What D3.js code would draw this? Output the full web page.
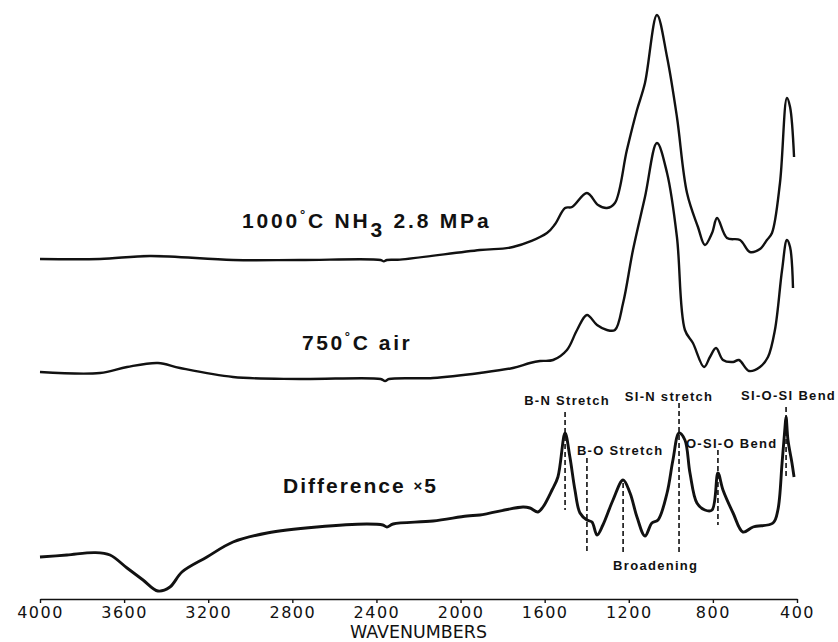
<!DOCTYPE html>
<html>
<head>
<meta charset="utf-8">
<script src="https://cdn.jsdelivr.net/npm/d3@7"></script>
<style>
  body { margin: 0; background: #fff; }
  .lbl { font-family: "Liberation Sans", Arial, sans-serif; font-weight: bold; fill: #111; }
  .tick text { font-family: "DejaVu Sans", sans-serif; }
</style>
</head>
<body>
<div id="plot"></div>
<script>
// wavenumber (cm-1) and absorbance above each trace's own start level
const nh3Wn  = [4000, 3715, 3477, 3082, 2764, 2380, 2365, 2350, 2288, 1908, 1751, 1589, 1550, 1503, 1470, 1399, 1346, 1304, 1266, 1209, 1161, 1123, 1066, 1018, 971, 923, 871, 838, 804, 780, 733, 671, 624, 576, 543, 519, 481, 448, 433, 414];
const nh3Abs = [0, 0, 0.015, -0.005, -0.005, -0.005, -0.012, -0.005, -0.003, 0.045, 0.06, 0.13, 0.175, 0.255, 0.26, 0.33, 0.27, 0.255, 0.28, 0.545, 0.745, 0.88, 1.22, 1.01, 0.71, 0.33, 0.16, 0.07, 0.13, 0.205, 0.105, 0.095, 0.035, 0.05, 0.095, 0.13, 0.38, 0.805, 0.76, 0.51];

const airWn  = [4000, 3715, 3586, 3439, 3334, 3082, 2764, 2380, 2359, 2340, 2131, 1908, 1751, 1670, 1622, 1560, 1494, 1446, 1399, 1351, 1304, 1266, 1227, 1180, 1123, 1066, 1018, 971, 933, 895, 842, 814, 785, 752, 704, 676, 628, 576, 538, 505, 471, 448, 433, 419];
const airAbs = [0, -0.005, 0.025, 0.045, 0.02, -0.025, -0.035, -0.035, -0.045, -0.035, -0.03, -0.005, 0.02, 0.045, 0.055, 0.06, 0.11, 0.21, 0.285, 0.235, 0.21, 0.21, 0.345, 0.61, 0.875, 1.145, 0.995, 0.675, 0.21, 0.145, 0.025, 0.075, 0.12, 0.06, 0.05, 0.06, 0.005, 0.025, 0.075, 0.21, 0.51, 0.66, 0.625, 0.42];

const diffWn  = [4000, 3872, 3738, 3667, 3586, 3510, 3439, 3382, 3325, 3206, 3082, 2920, 2683, 2445, 2370, 2350, 2321, 2131, 1969, 1908, 1703, 1670, 1632, 1608, 1565, 1537, 1503, 1480, 1456, 1432, 1399, 1375, 1351, 1323, 1275, 1227, 1194, 1161, 1123, 1090, 1061, 1018, 990, 961, 933, 909, 876, 838, 804, 776, 752, 704, 657, 609, 514, 491, 471, 457, 452, 443, 424, 414];
const diffAbs = [0, 0.01, 0.022, 0.01, -0.055, -0.115, -0.17, -0.15, -0.075, 0, 0.075, 0.12, 0.15, 0.165, 0.16, 0.15, 0.165, 0.18, 0.205, 0.21, 0.25, 0.245, 0.225, 0.25, 0.335, 0.4, 0.62, 0.5, 0.335, 0.22, 0.185, 0.175, 0.11, 0.16, 0.285, 0.385, 0.32, 0.2, 0.105, 0.17, 0.185, 0.32, 0.485, 0.62, 0.585, 0.42, 0.27, 0.235, 0.235, 0.42, 0.335, 0.22, 0.125, 0.15, 0.17, 0.235, 0.47, 0.65, 0.7, 0.585, 0.47, 0.4];

const traceOffsets = [1.705, 1.14, 0.215];   // vertical stacking of the three traces
const xTicks = [4000, 3600, 3200, 2800, 2400, 2000, 1600, 1200, 800, 400];

// band assignments on the difference spectrum
const bandNames = ["B-N Stretch", "B-O Stretch", "Broadening", "SI-N stretch", "O-SI-O Bend", "SI-O-SI Bend"];
const bandWn    = [1503, 1399, 1227, 961, 776, 452];
const bandTop   = [0.94, 0.71, 0.585, 0.985, 0.75, 0.965];
const bandBot   = [0.45, 0.235, 0.235, 0.235, 0.375, 0.61];

const width = 838, height = 642;

const svg = d3.select("#plot")
    .append("svg")
    .attr("width", width)
    .attr("height", height);

const x = d3.scaleLinear().domain([4000, 400]).range([40, 797]);
const y = d3.scaleLinear().domain([0, 3]).range([600, 0]);

const line = d3.line()
    .x(d => x(d[0]))
    .y(d => y(d[1]))
    .curve(d3.curveCatmullRom.alpha(0.5));

const traces = [
    {wn: nh3Wn, abs: nh3Abs, w: 2.4},
    {wn: airWn, abs: airAbs, w: 2.4},
    {wn: diffWn, abs: diffAbs, w: 2.9}
];

traces.forEach((t, i) => {
    const pts = t.wn.map((w, j) => [w, t.abs[j] + traceOffsets[i]]);
    svg.append("path")
        .datum(pts)
        .attr("fill", "none")
        .attr("stroke", "#111")
        .attr("stroke-width", t.w)
        .attr("stroke-linejoin", "round")
        .attr("d", line);
});

// x axis
const axis = svg.append("g")
    .attr("transform", "translate(0,599)")
    .call(d3.axisBottom(x).tickValues(xTicks).tickSize(4).tickSizeOuter(0).tickPadding(4).tickFormat(d3.format("d")));
axis.select(".domain").attr("stroke", "#111").attr("stroke-width", 1.6);
axis.selectAll(".tick line").attr("stroke", "#111").attr("stroke-width", 1.4);
axis.selectAll(".tick text")
    .attr("font-size", 16)
    .attr("letter-spacing", 1.5)
    .attr("fill", "#111");

svg.append("text")
    .attr("x", x(2200)).attr("y", 638)
    .attr("text-anchor", "middle")
    .attr("font-family", "DejaVu Sans, sans-serif")
    .attr("font-size", 18)
    .attr("textLength", 137)
    .attr("lengthAdjust", "spacingAndGlyphs")
    .attr("fill", "#111")
    .text("WAVENUMBERS");

// trace labels
const t1 = svg.append("text").attr("class", "lbl")
    .attr("x", 242).attr("y", 228)
    .attr("font-size", 21).attr("letter-spacing", 2.8);
t1.append("tspan").text("1000");
t1.append("tspan").attr("dy", -9).attr("font-size", 13).text("°");
t1.append("tspan").attr("dy", 9).text("C NH");
t1.append("tspan").attr("dy", 9).text("3");
t1.append("tspan").attr("dy", -9).text(" 2.8 MPa");

const t2 = svg.append("text").attr("class", "lbl")
    .attr("x", 302).attr("y", 350)
    .attr("font-size", 21).attr("letter-spacing", 2.6);
t2.append("tspan").text("750");
t2.append("tspan").attr("dy", -9).attr("font-size", 13).text("°");
t2.append("tspan").attr("dy", 9).text("C air");

const t3 = svg.append("text").attr("class", "lbl")
    .attr("x", 283).attr("y", 493)
    .attr("font-size", 21).attr("letter-spacing", 2);
t3.append("tspan").text("Difference ");
t3.append("tspan").attr("font-size", 15).attr("dy", -2).text("×");
t3.append("tspan").attr("dy", 2).text("5");

// band markers
const bandLabelPos = [
    {dx: 2, y: 405, anchor: "middle"},
    {dx: -10, y: 455, anchor: "start"},
    {dx: -10, y: 570, anchor: "start"},
    {dx: -10, y: 401, anchor: "middle"},
    {dx: -32, y: 448, anchor: "start"},
    {dx: -45, y: 400, anchor: "start"}
];

bandNames.forEach((name, i) => {
    svg.append("line")
        .attr("x1", x(bandWn[i])).attr("x2", x(bandWn[i]))
        .attr("y1", y(bandTop[i])).attr("y2", y(bandBot[i]))
        .attr("stroke", "#111")
        .attr("stroke-width", 1.6)
        .attr("stroke-dasharray", "5,3");
    svg.append("text").attr("class", "lbl")
        .attr("x", x(bandWn[i]) + bandLabelPos[i].dx)
        .attr("y", bandLabelPos[i].y)
        .attr("text-anchor", bandLabelPos[i].anchor)
        .attr("font-size", 13)
        .attr("letter-spacing", 1.3)
        .text(name);
});
</script>
</body>
</html>
